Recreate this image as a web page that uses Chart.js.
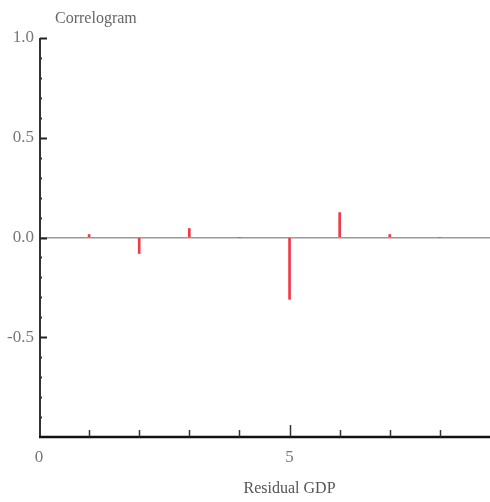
<!DOCTYPE html>
<html>
<head>
<meta charset="utf-8">
<script src="https://cdn.jsdelivr.net/npm/chart.js@4/dist/chart.umd.min.js"></script>
<style>
  html, body { margin: 0; padding: 0; background: #fff; overflow: hidden; }
  canvas { display: block; }
</style>
</head>
<body>
<canvas id="chart" width="490" height="502"></canvas>
<script>
const TITLE = "Correlogram";
const X_TITLE = "Residual GDP";
const lags = [1, 2, 3, 4, 5, 6, 7, 8];
const acf = [0.015, -0.08, 0.045, 0, -0.31, 0.125, 0.015, 0];
const xLabels = [0, 5];
const yLabels = [1.0, 0.5, 0.0, -0.5];

const SERIF = "'Liberation Serif', 'Times New Roman', serif";

// axes lines, inward ticks, title and x-axis caption
const axesPlugin = {
  id: "axesPlugin",
  afterDraw(chart) {
    const { ctx, chartArea: a, scales: { x, y } } = chart;
    ctx.save();

    // left axis
    ctx.strokeStyle = "#333";
    ctx.lineWidth = 2;
    ctx.beginPath();
    ctx.moveTo(a.left + 1, y.getPixelForValue(1));
    ctx.lineTo(a.left + 1, y.getPixelForValue(-1));
    ctx.stroke();

    for (let i = -9; i <= 10; i++) {
      const py = Math.round(y.getPixelForValue(i / 10)) + 0.5;
      const major = i % 5 === 0;
      ctx.lineWidth = 2;
      ctx.strokeStyle = major ? "#222" : "#333";
      ctx.beginPath();
      ctx.moveTo(a.left + 1, py);
      ctx.lineTo(a.left + (major ? 8 : 3), py);
      ctx.stroke();
    }

    // bottom axis
    const by = y.getPixelForValue(-1);
    ctx.strokeStyle = "#111";
    ctx.lineWidth = 2.5;
    ctx.beginPath();
    ctx.moveTo(a.left, by);
    ctx.lineTo(a.right, by);
    ctx.stroke();

    ctx.lineWidth = 1.5;
    ctx.strokeStyle = "#333";
    for (let i = 1; i <= 8; i++) {
      const px = Math.round(x.getPixelForValue(i)) + 0.5;
      ctx.beginPath();
      ctx.moveTo(px, by);
      ctx.lineTo(px, by - (i === 5 ? 12 : 7));
      ctx.stroke();
    }

    // title
    ctx.fillStyle = "#666";
    ctx.font = "16px " + SERIF;
    ctx.textBaseline = "alphabetic";
    ctx.textAlign = "left";
    ctx.fillText(TITLE, 55, 23);

    // x-axis caption, centred under lag 5
    ctx.fillStyle = "#555";
    ctx.textAlign = "center";
    ctx.fillText(X_TITLE, x.getPixelForValue(5), 493);
    ctx.restore();
  }
};

new Chart(document.getElementById("chart"), {
  type: "bar",
  data: {
    datasets: [{
      label: "ACF",
      data: lags.map((l, i) => ({ x: l, y: acf[i] })),
      backgroundColor: "#f03a48",
      borderWidth: 0,
      barThickness: 2
    }]
  },
  options: {
    responsive: false,
    animation: false,
    layout: { padding: { top: 38, right: 0, left: 0, bottom: 4 } },
    plugins: {
      legend: { display: false },
      tooltip: { enabled: false }
    },
    scales: {
      x: {
        type: "linear",
        min: 0,
        max: 9,
        offset: false,
        border: { display: false },
        grid: { display: false, drawTicks: false },
        ticks: {
          stepSize: 1,
          padding: 10,
          maxRotation: 0,
          autoSkip: false,
          color: "#777",
          font: { family: SERIF, size: 17 },
          callback: v => xLabels.includes(v) ? String(v) : ""
        },
        afterFit: s => { s.height = 61; s.paddingRight = 0; }
      },
      y: {
        min: -1,
        max: 1,
        border: { display: false },
        grid: {
          drawTicks: false,
          lineWidth: 1.5,
          color: c => (c.tick && c.tick.value === 0) ? "#9a9a9a" : "transparent"
        },
        ticks: {
          stepSize: 0.1,
          padding: 5,
          autoSkip: false,
          color: "#777",
          font: { family: SERIF, size: 17 },
          callback: v => {
            const r = Math.round(v * 10) / 10;
            return yLabels.includes(r) ? r.toFixed(1) : "";
          }
        },
        afterFit: s => { s.width = 39; }
      }
    }
  },
  plugins: [axesPlugin]
});
</script>
</body>
</html>
